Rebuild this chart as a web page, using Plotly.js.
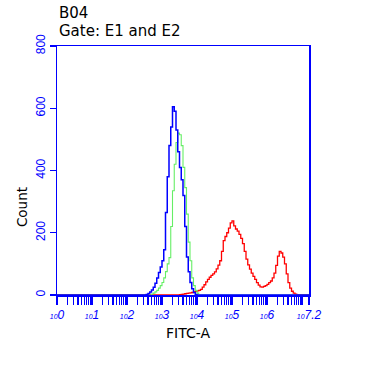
<!DOCTYPE html>
<html>
<head>
<meta charset="utf-8">
<script src="https://cdn.plot.ly/plotly-3.0.1.min.js"></script>
<style>html,body{margin:0;padding:0;background:#fff;}#chart{width:369px;height:384px;}</style>
</head>
<body>
<div id="chart"></div>
<script>
// decades (log10 of FITC-A) and counts
const blueDec = [0, 2.5, 2.55, 2.6, 2.65, 2.7, 2.75, 2.8, 2.85, 2.9, 2.95, 3.0, 3.05, 3.1, 3.15, 3.2, 3.25, 3.3, 3.35, 3.4, 3.45, 3.5, 3.55, 3.6, 3.65, 3.7, 3.75, 3.8, 3.85, 3.9, 3.95, 4.0, 7.2];
const blueCnt = [0, 0, 2, 5, 10, 16, 25, 38, 55, 72, 90, 110, 145, 265, 380, 480, 540, 605, 590, 530, 460, 410, 370, 320, 220, 122, 75, 40, 20, 8, 2, 0, 0];

const greenDec = [0, 2.65, 2.7, 2.75, 2.8, 2.85, 2.9, 2.95, 3.0, 3.05, 3.1, 3.15, 3.2, 3.25, 3.3, 3.35, 3.4, 3.45, 3.5, 3.55, 3.6, 3.65, 3.7, 3.75, 3.8, 3.85, 3.9, 3.95, 4.0, 4.05, 7.2];
const greenCnt = [0, 0, 3, 6, 10, 15, 22, 30, 40, 55, 75, 100, 120, 220, 335, 420, 490, 520, 515, 480, 410, 345, 260, 170, 110, 55, 30, 15, 6, 0, 0];

const redDec = [0, 3.45, 3.5, 3.55, 3.6, 3.65, 3.7, 3.75, 3.8, 3.85, 3.9, 3.95, 4.0, 4.05, 4.1, 4.15, 4.2, 4.25, 4.3, 4.35, 4.4, 4.45, 4.5, 4.55, 4.6, 4.65, 4.7, 4.75, 4.8, 4.85, 4.9, 4.95, 5.0, 5.05, 5.1, 5.15, 5.2, 5.25, 5.3, 5.35, 5.4, 5.45, 5.5, 5.55, 5.6, 5.65, 5.7, 5.75, 5.8, 5.85, 5.9, 5.95, 6.0, 6.05, 6.1, 6.15, 6.2, 6.25, 6.3, 6.35, 6.4, 6.45, 6.5, 6.55, 6.6, 6.65, 6.7, 6.75, 6.8, 6.85, 6.9, 7.2];
const redCnt = [0, 0, 1, 2, 3, 4, 5, 6, 7, 8, 10, 11, 13, 15, 18, 25, 33, 42, 50, 57, 63, 68, 74, 84, 96, 110, 140, 175, 188, 200, 215, 232, 238, 222, 212, 205, 195, 182, 165, 140, 115, 97, 83, 70, 60, 50, 40, 32, 26, 25, 28, 30, 34, 40, 45, 55, 70, 95, 125, 140, 135, 122, 100, 68, 40, 22, 12, 6, 3, 1, 0, 0];

const xTickDec = [0, 1, 2, 3, 4, 5, 6, 7.2];
const xTickExp = ['0', '1', '2', '3', '4', '5', '6', '7.2'];
const yTicks = [0, 200, 400, 600, 800];

const toLin = a => a.map(d => Math.pow(10, d));
const xTickText = xTickExp.map(e => "<span style='font-size:7px'>10</span>" + e);

const traces = [
  {x: toLin(redDec), y: redCnt, type: 'scatter', mode: 'lines', line: {color: '#ff0000', width: 1.3, shape: 'hv'}, hoverinfo: 'skip'},
  {x: toLin(greenDec), y: greenCnt, type: 'scatter', mode: 'lines', line: {color: '#66ee66', width: 1.1, shape: 'hv'}, hoverinfo: 'skip'},
  {x: toLin(blueDec), y: blueCnt, type: 'scatter', mode: 'lines', line: {color: '#0000ff', width: 1.5, shape: 'hv'}, hoverinfo: 'skip'}
];

const blue = '#0000ff';
const dv = '"DejaVu Sans", Verdana, sans-serif';
const layout = {
  width: 369, height: 384,
  margin: {l: 57, r: 60, t: 46, b: 89},
  paper_bgcolor: '#ffffff', plot_bgcolor: '#ffffff',
  showlegend: false,
  font: {family: 'Arial, "Liberation Sans", sans-serif', color: '#000'},
  xaxis: {
    type: 'log', range: [0, 7.2], showgrid: false, zeroline: false,
    showline: true, linecolor: blue, linewidth: 1.5, mirror: true,
    tickmode: 'array', tickvals: toLin(xTickDec), ticktext: xTickText,
    ticks: 'outside', ticklen: 8, tickcolor: blue, tickwidth: 1.2,
    tickfont: {size: 12, color: blue, family: 'Arial, "Liberation Sans", sans-serif', style: 'italic'},
    minor: {ticks: 'outside', ticklen: 8, tickcolor: blue, tickwidth: 1.2, dtick: 'D1', showgrid: false}
  },
  yaxis: {
    range: [0, 800], showgrid: false, zeroline: false,
    showline: true, linecolor: blue, linewidth: 1.5, mirror: true,
    tickmode: 'array', tickvals: yTicks,
    ticks: 'outside', ticklen: 6, tickcolor: blue, tickwidth: 1.2,
    tickangle: -90,
    tickfont: {size: 12, color: blue, family: 'Arial, "Liberation Sans", sans-serif'}
  },
  annotations: [
    {text: 'B04', xref: 'paper', yref: 'paper', x: 0, y: 1, xshift: 0, yshift: 22, xanchor: 'left', yanchor: 'bottom', showarrow: false, font: {size: 15, color: '#000', family: dv}},
    {text: 'Gate: E1 and E2', xref: 'paper', yref: 'paper', x: 0, y: 1, xshift: 0, yshift: 4, xanchor: 'left', yanchor: 'bottom', showarrow: false, font: {size: 15, color: '#000', family: dv}},
    {text: 'Count', xref: 'paper', yref: 'paper', x: 0, y: 0.353, xshift: -35, xanchor: 'center', yanchor: 'middle', textangle: -90, showarrow: false, font: {size: 13.5, color: '#000', family: dv}},
    {text: 'FITC-A', xref: 'paper', yref: 'paper', x: 0.52, y: 0, yshift: -38, xanchor: 'center', yanchor: 'middle', showarrow: false, font: {size: 14, color: '#000', family: dv}}
  ]
};

Plotly.newPlot('chart', traces, layout, {displayModeBar: false, staticPlot: true});
</script>
</body>
</html>
